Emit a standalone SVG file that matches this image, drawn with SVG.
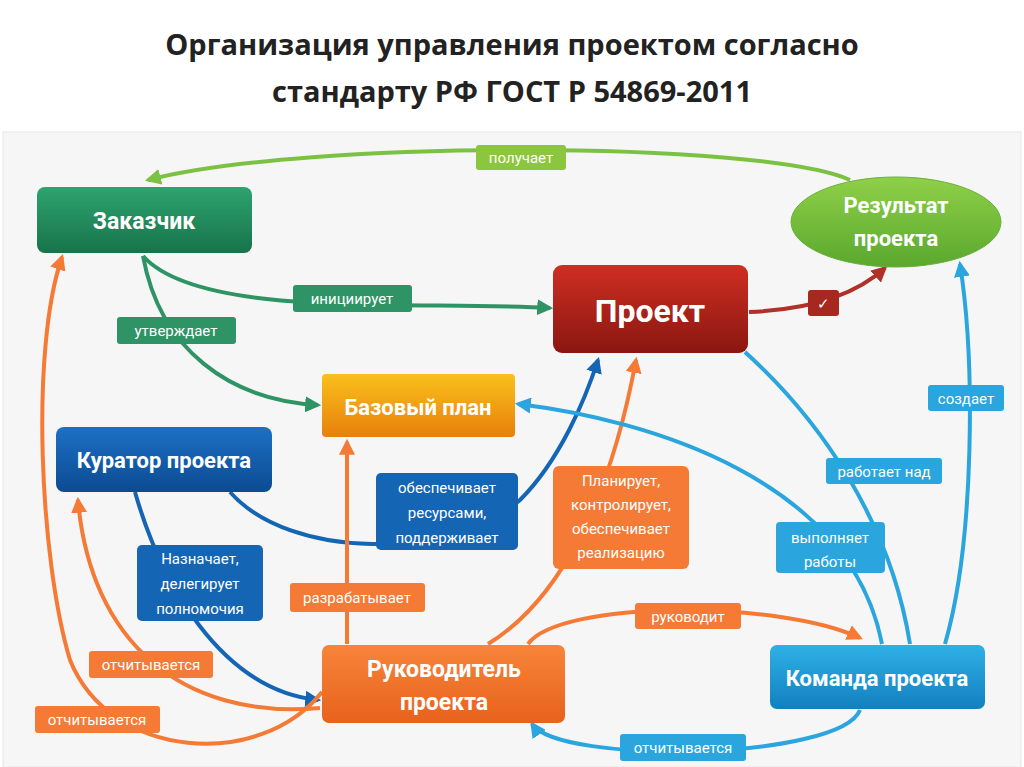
<svg xmlns="http://www.w3.org/2000/svg" width="1024" height="767" viewBox="0 0 1024 767">
<style>
.t{font-family:"Open Sans","Liberation Sans",sans-serif;font-weight:bold;fill:#222;font-size:29px;text-anchor:middle}
.n{font-family:"Roboto","Liberation Sans Narrow","Liberation Sans",sans-serif;font-weight:bold;fill:#fff;text-anchor:middle}
.l{font-family:"Roboto","Liberation Sans Narrow","Liberation Sans",sans-serif;fill:#fff;font-size:15px;text-anchor:middle}
.c{fill:none;stroke-width:4}
</style>
<defs>
<linearGradient id="gG" x1="0" y1="0" x2="0" y2="1"><stop offset="0" stop-color="#2ea36f"/><stop offset="1" stop-color="#17734a"/></linearGradient>
<linearGradient id="gL" x1="0" y1="0" x2="0" y2="1"><stop offset="0" stop-color="#8fd048"/><stop offset="1" stop-color="#5aa82e"/></linearGradient>
<linearGradient id="gR" x1="0" y1="0" x2="0" y2="1"><stop offset="0" stop-color="#cf2e22"/><stop offset="1" stop-color="#8a1710"/></linearGradient>
<linearGradient id="gY" x1="0" y1="0" x2="0" y2="1"><stop offset="0" stop-color="#f9c01c"/><stop offset="1" stop-color="#e8800c"/></linearGradient>
<linearGradient id="gB" x1="0" y1="0" x2="0" y2="1"><stop offset="0" stop-color="#1c70c4"/><stop offset="1" stop-color="#0c4b92"/></linearGradient>
<linearGradient id="gO" x1="0" y1="0" x2="0" y2="1"><stop offset="0" stop-color="#f7843a"/><stop offset="1" stop-color="#e8621c"/></linearGradient>
<linearGradient id="gC" x1="0" y1="0" x2="0" y2="1"><stop offset="0" stop-color="#2fb0e6"/><stop offset="1" stop-color="#1280bf"/></linearGradient>
<marker id="aG" viewBox="0 0 10 10" refX="8" refY="5" markerWidth="4" markerHeight="4" orient="auto"><path d="M0 0L10 5L0 10z" fill="#2e9466"/></marker>
<marker id="aL" viewBox="0 0 10 10" refX="8" refY="5" markerWidth="4" markerHeight="4" orient="auto"><path d="M0 0L10 5L0 10z" fill="#7cc242"/></marker>
<marker id="aR" viewBox="0 0 10 10" refX="8" refY="5" markerWidth="4" markerHeight="4" orient="auto"><path d="M0 0L10 5L0 10z" fill="#b0302a"/></marker>
<marker id="aB" viewBox="0 0 10 10" refX="8" refY="5" markerWidth="4" markerHeight="4" orient="auto"><path d="M0 0L10 5L0 10z" fill="#1565b5"/></marker>
<marker id="aO" viewBox="0 0 10 10" refX="8" refY="5" markerWidth="4" markerHeight="4" orient="auto"><path d="M0 0L10 5L0 10z" fill="#f47a36"/></marker>
<marker id="aC" viewBox="0 0 10 10" refX="8" refY="5" markerWidth="4" markerHeight="4" orient="auto"><path d="M0 0L10 5L0 10z" fill="#2aa5de"/></marker>
</defs>
<rect width="1024" height="767" fill="#fff"/>
<rect x="3" y="132" width="1018" height="635" fill="#f6f6f6" stroke="#e6e6e6"/>
<text class="t" x="512" y="55">Организация управления проектом согласно</text>
<text class="t" x="512" y="102">стандарту РФ ГОСТ Р 54869-2011</text>

<g id="connectors">
<path class="c" stroke="#7cc242" marker-end="url(#aL)" d="M850 180 C 760 140, 300 140, 148 180"/>
<path class="c" stroke="#2e9466" marker-end="url(#aG)" d="M143 256 C 200 320, 420 300, 550 308"/>
<path class="c" stroke="#2e9466" marker-end="url(#aG)" d="M143 256 C 160 350, 230 400, 318 405"/>
<path class="c" stroke="#b0302a" marker-end="url(#aR)" d="M749 312 C 800 310, 850 300, 885 268"/>
<path class="c" stroke="#1565b5" marker-end="url(#aB)" d="M230 492 C 290 560, 450 560, 520 500 C 560 460, 585 400, 598 360"/>
<path class="c" stroke="#1565b5" stroke-width="3" marker-end="url(#aB)" d="M135 492 C 160 580, 220 690, 318 700"/>
<path class="c" stroke="#f47a36" stroke-width="3" marker-end="url(#aO)" d="M347 644 L 347 442"/>
<path class="c" stroke="#f47a36" stroke-width="3" marker-end="url(#aO)" d="M488 644 C 560 600, 610 500, 636 360"/>
<path class="c" stroke="#f47a36" stroke-width="3" marker-end="url(#aO)" d="M320 708 C 180 720, 90 640, 78 500"/>
<path class="c" stroke="#f47a36" stroke-width="3" marker-end="url(#aO)" d="M322 692 C 260 770, 110 760, 70 660 C 40 560, 30 350, 62 257"/>
<path class="c" stroke="#f47a36" marker-end="url(#aO)" d="M528 644 C 560 600, 780 600, 860 638"/>
<path class="c" stroke="#2aa5de" marker-end="url(#aC)" d="M860 710 C 840 760, 560 765, 532 724"/>
<path class="c" stroke="#2aa5de" stroke-width="3" marker-end="url(#aC)" d="M882 644 C 850 480, 650 420, 518 404"/>
<path class="c" stroke="#2aa5de" stroke-width="3" d="M745 352 C 820 420, 890 520, 910 644"/>
<path class="c" stroke="#2aa5de" stroke-width="3" marker-end="url(#aC)" d="M945 644 C 975 540, 975 360, 960 264"/>
</g>

<g id="labels">
<rect x="476" y="145" width="90" height="25" rx="3" fill="#8cc63f"/><text class="l" x="521" y="163">получает</text>
<rect x="293" y="285" width="119" height="27" rx="3" fill="#2e9466"/><text class="l" x="352" y="304">инициирует</text>
<rect x="117" y="317" width="119" height="27" rx="3" fill="#2e9466"/><text class="l" x="176" y="336">утверждает</text>
<rect x="808" y="290" width="31" height="26" rx="3" fill="#a7281f"/><text class="l" x="823" y="309">✓</text>
<rect x="376" y="473" width="142" height="77" rx="5" fill="#1565b5"/><text class="l" x="447" y="493">обеспечивает</text><text class="l" x="447" y="518">ресурсами,</text><text class="l" x="447" y="543">поддерживает</text>
<rect x="137" y="545" width="126" height="76" rx="5" fill="#1565b5"/><text class="l" x="200" y="564">Назначает,</text><text class="l" x="200" y="589">делегирует</text><text class="l" x="200" y="614">полномочия</text>
<rect x="290" y="583" width="135" height="29" rx="3" fill="#f47a36"/><text class="l" x="357" y="603">разрабатывает</text>
<rect x="553" y="466" width="136" height="103" rx="6" fill="#f47a36"/><text class="l" x="621" y="486">Планирует,</text><text class="l" x="621" y="510">контролирует,</text><text class="l" x="621" y="534">обеспечивает</text><text class="l" x="621" y="558">реализацию</text>
<rect x="89" y="651" width="124" height="27" rx="3" fill="#f47a36"/><text class="l" x="151" y="670">отчитывается</text>
<rect x="35" y="706" width="125" height="27" rx="3" fill="#f47a36"/><text class="l" x="97" y="725">отчитывается</text>
<rect x="635" y="603" width="106" height="26" rx="3" fill="#f47a36"/><text class="l" x="688" y="622">руководит</text>
<rect x="620" y="734" width="126" height="27" rx="3" fill="#2aa5de"/><text class="l" x="683" y="753">отчитывается</text>
<rect x="776" y="522" width="109" height="51" rx="4" fill="#2aa5de"/><text class="l" x="830" y="543">выполняет</text><text class="l" x="830" y="567">работы</text>
<rect x="826" y="458" width="116" height="26" rx="3" fill="#2aa5de"/><text class="l" x="884" y="477">работает над</text>
<rect x="928" y="385" width="76" height="26" rx="3" fill="#2aa5de"/><text class="l" x="966" y="404">создает</text>
</g>

<g id="zakazchik"><rect x="37" y="187" width="215" height="66" rx="8" fill="url(#gG)"/><text class="n" x="144" y="229" font-size="23">Заказчик</text></g>
<g id="rezultat"><ellipse cx="896" cy="222" rx="105" ry="45" fill="url(#gL)" stroke="#6ab03a"/><text class="n" x="896" y="213" font-size="22">Результат</text><text class="n" x="896" y="246" font-size="22">проекта</text></g>
<g id="proekt"><rect x="553" y="265" width="195" height="88" rx="9" fill="url(#gR)"/><text class="n" x="650" y="322" font-size="32">Проект</text></g>
<g id="bazovy"><rect x="322" y="374" width="193" height="63" rx="4" fill="url(#gY)"/><text class="n" x="418" y="415" font-size="22">Базовый план</text></g>
<g id="kurator"><rect x="56" y="427" width="216" height="65" rx="8" fill="url(#gB)"/><text class="n" x="164" y="468" font-size="22">Куратор проекта</text></g>
<g id="rukovoditel"><rect x="322" y="645" width="243" height="78" rx="7" fill="url(#gO)"/><text class="n" x="444" y="677" font-size="23">Руководитель</text><text class="n" x="444" y="710" font-size="23">проекта</text></g>
<g id="komanda"><rect x="770" y="645" width="215" height="64" rx="7" fill="url(#gC)"/><text class="n" x="877" y="686" font-size="22">Команда проекта</text></g>
</svg>
